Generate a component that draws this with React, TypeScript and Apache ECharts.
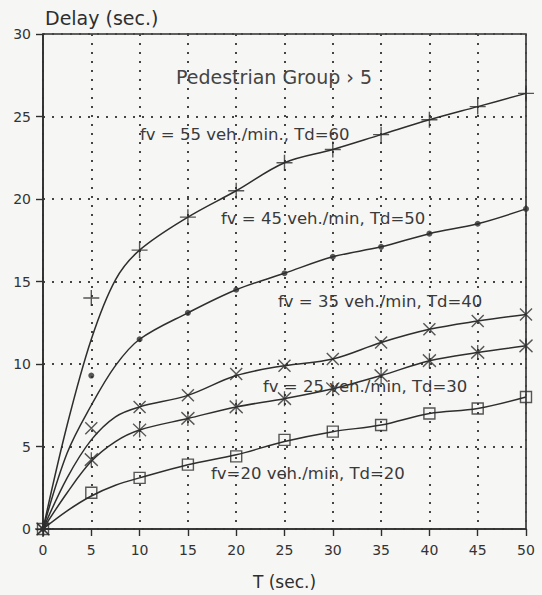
import React, { useEffect, useRef } from "react";
import * as echarts from "echarts";

// Marker positions (T in seconds)
const markerT = [0, 5, 10, 15, 20, 25, 30, 35, 40, 45, 50];
const marker55 = [0, 14.0, 16.9, 18.9, 20.5, 22.2, 23.0, 23.9, 24.8, 25.6, 26.4];
const marker45 = [0, 9.3, 11.5, 13.1, 14.5, 15.5, 16.5, 17.1, 17.9, 18.5, 19.4];
const marker35 = [0, 6.1, 7.4, 8.1, 9.4, 9.9, 10.3, 11.3, 12.1, 12.6, 13.0];
const marker25 = [0, 4.2, 6.0, 6.7, 7.4, 7.9, 8.5, 9.3, 10.2, 10.7, 11.1];
const marker20 = [0, 2.2, 3.1, 3.9, 4.4, 5.4, 5.9, 6.3, 7.0, 7.3, 8.0];

// Fitted curves as drawn in the figure
const curveT = [0, 2.5, 5, 7.5, 10, 15, 20, 25, 30, 35, 40, 45, 50];
const curve55 = [0, 6.3, 11.5, 15.1, 16.9, 18.9, 20.5, 22.2, 23.0, 23.9, 24.8, 25.6, 26.4];
const curve45 = [0, 4.6, 7.5, 9.9, 11.5, 13.1, 14.5, 15.5, 16.5, 17.1, 17.9, 18.5, 19.4];
const curve35 = [0, 3.1, 5.4, 6.8, 7.4, 8.1, 9.3, 9.9, 10.3, 11.3, 12.1, 12.6, 13.0];
const curve25 = [0, 2.2, 4.1, 5.3, 6.0, 6.7, 7.4, 7.9, 8.5, 9.3, 10.2, 10.7, 11.1];
const curve20 = [0, 1.1, 2.0, 2.65, 3.1, 3.9, 4.5, 5.3, 5.9, 6.3, 7.0, 7.3, 8.0];

const xTicks = [0, 5, 10, 15, 20, 25, 30, 35, 40, 45, 50];
const yTicks = [0, 5, 10, 15, 20, 25, 30];

const title = "Delay (sec.)";
const xName = "T (sec.)";
const groupLabel = "Pedestrian Group › 5";
const curveLabels = [
  "fv = 55 veh./min., Td=60",
  "fv = 45 veh./min, Td=50",
  "fv = 35 veh./min, Td=40",
  "fv = 25 veh./min, Td=30",
  "fv=20 veh./min, Td=20",
];

const INK = "#2e2e2e";
const FONT = "'DejaVu Sans', sans-serif";

const zip = (xs: number[], ys: number[]) => xs.map((x, i) => [x, ys[i]]);

export default function App() {
  const ref = useRef<HTMLDivElement>(null);
  useEffect(() => {
    if (!ref.current) return;
    const chart = echarts.init(ref.current, null, { renderer: "svg" });

    const curves = [curve55, curve45, curve35, curve25, curve20];
    const markers = [marker55, marker45, marker35, marker25, marker20];
    const symbols = [
      { symbol: "path://M5,0L5,10M0,5L10,5", size: 16, fill: "rgba(0,0,0,0)" },
      { symbol: "circle", size: 6, fill: INK },
      { symbol: "path://M0,0L10,10M10,0L0,10", size: 12, fill: "rgba(0,0,0,0)" },
      { symbol: "path://M0,1L10,11M10,1L0,11M5,0L5,12", size: [13, 15], fill: "rgba(0,0,0,0)" },
      { symbol: "rect", size: 11, fill: "rgba(0,0,0,0)" },
    ];

    const series: any[] = [];
    curves.forEach((c) => {
      series.push({
        type: "line",
        data: zip(curveT, c),
        smooth: 0.35,
        showSymbol: false,
        symbol: "none",
        lineStyle: { color: INK, width: 1.5 },
        z: 2,
        silent: true,
      });
    });
    markers.forEach((m, i) => {
      const s = symbols[i];
      series.push({
        type: "scatter",
        data: zip(markerT, m),
        symbol: s.symbol,
        symbolSize: s.size,
        itemStyle: {
          color: s.fill,
          borderColor: INK,
          borderWidth: i === 1 ? 0 : 1.4,
        },
        z: 3,
        silent: true,
      });
    });

    const labelPos = [
      [140, 134],
      [221, 218],
      [278, 301],
      [263, 386],
      [211, 473],
    ];

    const graphic: any[] = [
      {
        type: "text",
        left: 45,
        top: 8,
        style: { text: title, font: `19px ${FONT}`, fill: INK },
      },
      {
        type: "text",
        x: 176,
        y: 77,
        style: {
          text: groupLabel,
          font: `19px ${FONT}`,
          fill: "#444",
          verticalAlign: "middle",
        },
        z: 10,
      },
      ...curveLabels.map((t, i) => ({
        type: "text",
        x: labelPos[i][0],
        y: labelPos[i][1],
        style: {
          text: t,
          font: `16.5px ${FONT}`,
          fill: "#3a3a3a",
          verticalAlign: "middle",
        },
        z: 10,
      })),
    ];

    chart.setOption({
      animation: false,
      backgroundColor: "#f6f6f4",
      grid: {
        left: 43,
        right: 16,
        top: 34,
        bottom: 63,
        show: true,
        borderColor: INK,
        borderWidth: 1.6,
        backgroundColor: "transparent",
      },
      xAxis: {
        type: "value",
        min: xTicks[0],
        max: xTicks[xTicks.length - 1],
        interval: 5,
        name: xName,
        nameLocation: "middle",
        nameGap: 44,
        nameTextStyle: { fontFamily: FONT, fontSize: 17, color: INK },
        axisLine: { show: true, lineStyle: { color: INK, width: 1.6 } },
        axisTick: { show: true, length: 7, lineStyle: { color: INK, width: 1.4 } },
        axisLabel: { fontFamily: FONT, fontSize: 14, color: "#333", margin: 14 },
        splitLine: {
          show: true,
          lineStyle: { color: "#444", width: 2, type: [2, 7] },
        },
      },
      yAxis: {
        type: "value",
        min: yTicks[0],
        max: yTicks[yTicks.length - 1],
        interval: 5,
        axisLine: { show: true, lineStyle: { color: INK, width: 1.6 } },
        axisTick: { show: true, length: 7, lineStyle: { color: INK, width: 1.4 } },
        axisLabel: { fontFamily: FONT, fontSize: 14, color: "#333", margin: 12 },
        splitLine: {
          show: true,
          lineStyle: { color: "#444", width: 2, type: [2, 7] },
        },
      },
      graphic,
      series,
    });
    return () => chart.dispose();
  }, []);
  return (
    <div
      ref={ref}
      style={{ position: "fixed", left: 0, top: 0, width: 542, height: 595 }}
    />
  );
}
